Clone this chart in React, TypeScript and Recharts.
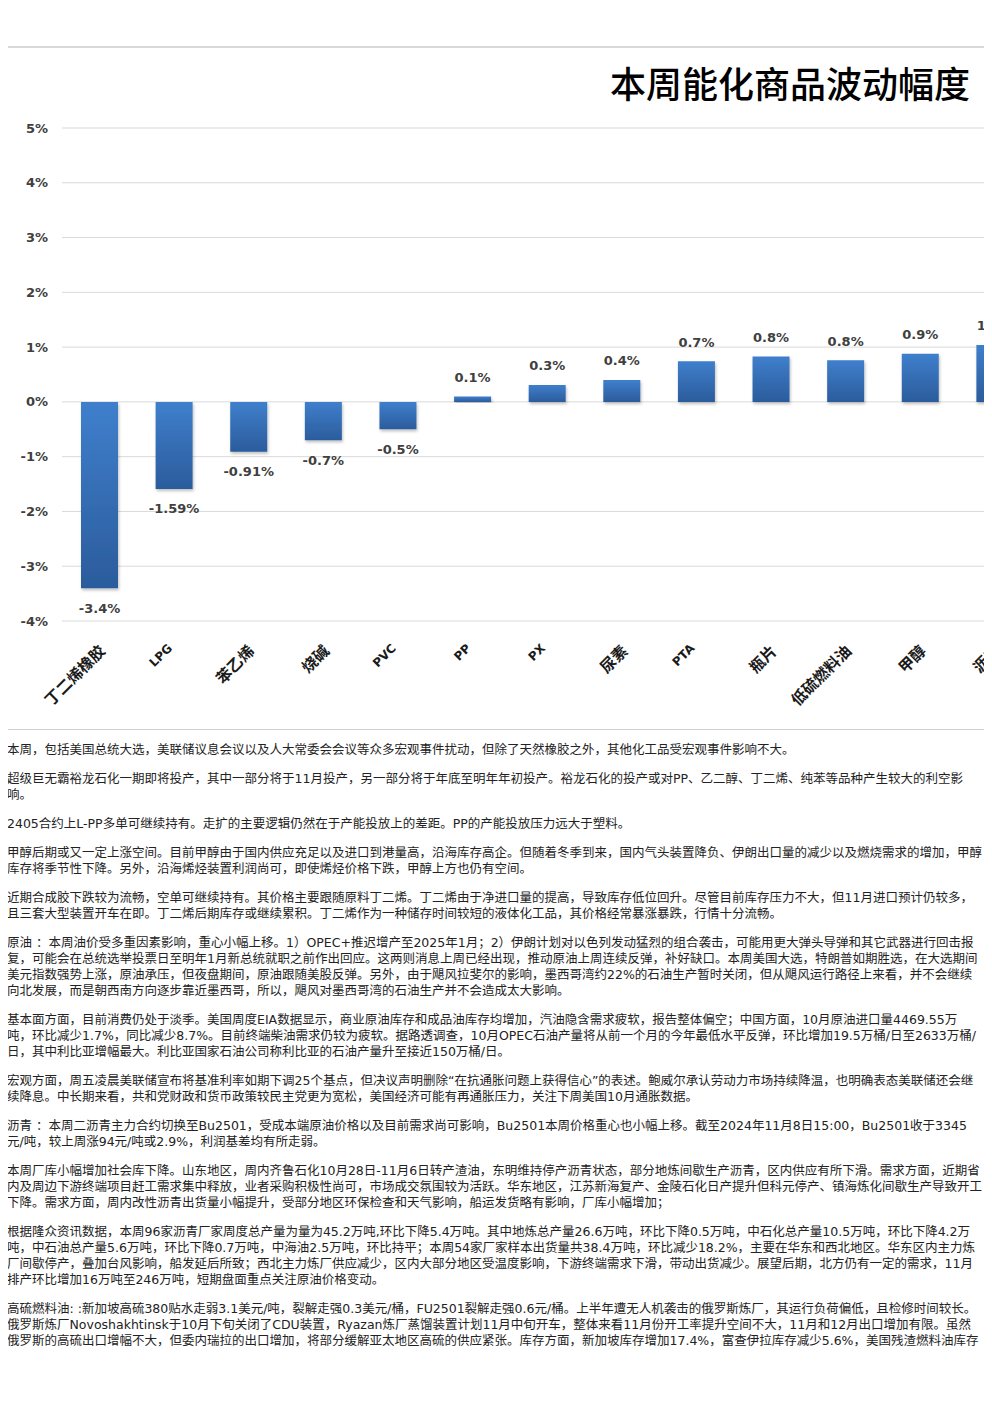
import React from 'react';
import { BarChart, Bar, XAxis, YAxis, CartesianGrid, LabelList } from 'recharts';

const title = '本周能化商品波动幅度';
const categories = ['丁二烯橡胶', 'LPG', '苯乙烯', '烧碱', 'PVC', 'PP', 'PX', '尿素', 'PTA', '瓶片', '低硫燃料油', '甲醇', '沥青'];
const changes = [-3.4, -1.59, -0.91, -0.7, -0.5, 0.1, 0.31, 0.4, 0.74, 0.83, 0.76, 0.88, 1.04];
const valueLabels = ['-3.4%', '-1.59%', '-0.91%', '-0.7%', '-0.5%', '0.1%', '0.3%', '0.4%', '0.7%', '0.8%', '0.8%', '0.9%', '1.0%'];
const yTicks = [-4, -3, -2, -1, 0, 1, 2, 3, 4, 5];

const paragraphs = [
  '本周，包括美国总统大选，美联储议息会议以及人大常委会会议等众多宏观事件扰动，但除了天然橡胶之外，其他化工品受宏观事件影响不大。',
  '超级巨无霸裕龙石化一期即将投产，其中一部分将于11月投产，另一部分将于年底至明年年初投产。裕龙石化的投产或对PP、乙二醇、丁二烯、纯苯等品种产生较大的利空影响。',
  '2405合约上L-PP多单可继续持有。走扩的主要逻辑仍然在于产能投放上的差距。PP的产能投放压力远大于塑料。',
  '甲醇后期或又一定上涨空间。目前甲醇由于国内供应充足以及进口到港量高，沿海库存高企。但随着冬季到来，国内气头装置降负、伊朗出口量的减少以及燃烧需求的增加，甲醇库存将季节性下降。另外，沿海烯烃装置利润尚可，即使烯烃价格下跌，甲醇上方也仍有空间。',
  '近期合成胶下跌较为流畅，空单可继续持有。其价格主要跟随原料丁二烯。丁二烯由于净进口量的提高，导致库存低位回升。尽管目前库存压力不大，但11月进口预计仍较多，且三套大型装置开车在即。丁二烯后期库存或继续累积。丁二烯作为一种储存时间较短的液体化工品，其价格经常暴涨暴跌，行情十分流畅。',
  '原油 ：本周油价受多重因素影响，重心小幅上移。1）OPEC+推迟增产至2025年1月；2）伊朗计划对以色列发动猛烈的组合袭击，可能用更大弹头导弹和其它武器进行回击报复，可能会在总统选举投票日至明年1月新总统就职之前作出回应。这两则消息上周已经出现，推动原油上周连续反弹，补好缺口。本周美国大选，特朗普如期胜选，在大选期间美元指数强势上涨，原油承压，但夜盘期间，原油跟随美股反弹。另外，由于飓风拉斐尔的影响，墨西哥湾约22%的石油生产暂时关闭，但从飓风运行路径上来看，并不会继续向北发展，而是朝西南方向逐步靠近墨西哥，所以，飓风对墨西哥湾的石油生产并不会造成太大影响。',
  '基本面方面，目前消费仍处于淡季。美国周度EIA数据显示，商业原油库存和成品油库存均增加，汽油隐含需求疲软，报告整体偏空；中国方面，10月原油进口量4469.55万吨，环比减少1.7%，同比减少8.7%。目前终端柴油需求仍较为疲软。据路透调查，10月OPEC石油产量将从前一个月的今年最低水平反弹，环比增加19.5万桶/日至2633万桶/日，其中利比亚增幅最大。利比亚国家石油公司称利比亚的石油产量升至接近150万桶/日。',
  '宏观方面，周五凌晨美联储宣布将基准利率如期下调25个基点，但决议声明删除“在抗通胀问题上获得信心”的表述。鲍威尔承认劳动力市场持续降温，也明确表态美联储还会继续降息。中长期来看，共和党财政和货币政策较民主党更为宽松，美国经济可能有再通胀压力，关注下周美国10月通胀数据。',
  '沥青 ：本周二沥青主力合约切换至Bu2501，受成本端原油价格以及目前需求尚可影响，Bu2501本周价格重心也小幅上移。截至2024年11月8日15:00，Bu2501收于3345元/吨，较上周涨94元/吨或2.9%，利润基差均有所走弱。',
  '本周厂库小幅增加社会库下降。山东地区，周内齐鲁石化10月28日-11月6日转产渣油，东明维持停产沥青状态，部分地炼间歇生产沥青，区内供应有所下滑。需求方面，近期省内及周边下游终端项目赶工需求集中释放，业者采购积极性尚可，市场成交氛围较为活跃。华东地区，江苏新海复产、金陵石化日产提升但科元停产、镇海炼化间歇生产导致开工下降。需求方面，周内改性沥青出货量小幅提升，受部分地区环保检查和天气影响，船运发货略有影响，厂库小幅增加；',
  '根据隆众资讯数据，本周96家沥青厂家周度总产量为量为45.2万吨,环比下降5.4万吨。其中地炼总产量26.6万吨，环比下降0.5万吨，中石化总产量10.5万吨，环比下降4.2万吨，中石油总产量5.6万吨，环比下降0.7万吨，中海油2.5万吨，环比持平；本周54家厂家样本出货量共38.4万吨，环比减少18.2%，主要在华东和西北地区。华东区内主力炼厂间歇停产，叠加台风影响，船发延后所致；西北主力炼厂供应减少，区内大部分地区受温度影响，下游终端需求下滑，带动出货减少。展望后期，北方仍有一定的需求，11月排产环比增加16万吨至246万吨，短期盘面重点关注原油价格变动。',
  '高硫燃料油: :新加坡高硫380贴水走弱3.1美元/吨，裂解走强0.3美元/桶，FU2501裂解走强0.6元/桶。上半年遭无人机袭击的俄罗斯炼厂，其运行负荷偏低，且检修时间较长。俄罗斯炼厂Novoshakhtinsk于10月下旬关闭了CDU装置，Ryazan炼厂蒸馏装置计划11月中旬开车，整体来看11月份开工率提升空间不大，11月和12月出口增加有限。虽然俄罗斯的高硫出口增幅不大，但委内瑞拉的出口增加，将部分缓解亚太地区高硫的供应紧张。库存方面，新加坡库存增加17.4%，富查伊拉库存减少5.6%，美国残渣燃料油库存',
];

const data = categories.map((name, i) => ({ name, value: changes[i], label: valueLabels[i] }));

const numFont = '"DejaVu Sans", "Noto Sans CJK SC", sans-serif';
const cjkFont = '"Noto Sans CJK SC", "DejaVu Sans", sans-serif';

const YTick = (props: any) => {
  const { y, payload } = props;
  return (
    <text x={40} y={y} dy={4.5} textAnchor="end" fontSize={13} fontWeight="bold" fill="#404040" fontFamily={numFont}>
      {`${payload.value}%`}
    </text>
  );
};

const XTick = (props: any) => {
  const { x, y, payload } = props;
  const v: string = payload.value;
  const latin = /^[A-Za-z]+$/.test(v);
  const ex = x + (latin ? -1 : 7);
  const ey = y + (latin ? 28 : 31);
  return (
    <text
      x={ex}
      y={ey}
      transform={`rotate(-45 ${ex} ${ey})`}
      textAnchor="end"
      fontSize={latin ? 12 : 15.5}
      fontWeight="bold"
      fill="#1a1a1a"
      fontFamily={latin ? numFont : cjkFont}
    >
      {v}
    </text>
  );
};

const BarLabel = (props: any) => {
  const { x, y, width, height, value, index } = props;
  const top = Math.min(y, y + height);
  const bottom = Math.max(y, y + height);
  const neg = changes[index] < 0;
  const cy = neg ? bottom + 20 : top - 19;
  return (
    <text x={x + width / 2} y={cy} dy={4.5} textAnchor="middle" fontSize={13} fontWeight="bold" fill="#404040" fontFamily={numFont}>
      {value}
    </text>
  );
};

export default function App() {
  return (
    <div style={{ paddingTop: 38, marginLeft: -1, width: 985, overflow: 'hidden' }}>
      <div
        style={{
          position: 'relative',
          width: 1100,
          height: 681,
          border: '1px solid #cfcfcf',
          borderTop: '2px solid #d9d9d9',
          background: '#fff',
        }}
      >
        <div
          style={{
            position: 'absolute',
            left: 0,
            top: 14,
            width: 962,
            textAlign: 'right',
            fontSize: 36,
            lineHeight: '40px',
            fontFamily: cjkFont,
            fontWeight: 500,
            color: '#000',
            whiteSpace: 'nowrap',
          }}
        >
          {title}
        </div>
        <BarChart width={1100} height={681} data={data} margin={{ top: 80, right: 76, bottom: 78, left: 0 }}>
          <defs>
            <linearGradient id="barGrad" x1="0" y1="0" x2="0" y2="1">
              <stop offset="0%" stopColor="#3f7fcc" />
              <stop offset="100%" stopColor="#2b5c9c" />
            </linearGradient>
            <filter id="barShadow" x="-20%" y="-20%" width="140%" height="140%">
              <feDropShadow dx="1" dy="2" stdDeviation="1.5" floodColor="#000" floodOpacity="0.25" />
            </filter>
          </defs>
          <CartesianGrid vertical={false} stroke="#d9d9d9" />
          <XAxis dataKey="name" axisLine={false} tickLine={false} tickSize={0} tickMargin={0} interval={0} tick={<XTick />} height={30} />
          <YAxis
            domain={[-4, 5]}
            ticks={yTicks}
            axisLine={false}
            tickLine={false}
            width={54}
            tick={<YTick />}
            allowDataOverflow
          />
          <Bar dataKey="value" barSize={37} fill="url(#barGrad)" filter="url(#barShadow)" isAnimationActive={false}>
            <LabelList dataKey="label" content={<BarLabel />} />
          </Bar>
        </BarChart>
      </div>
      <div
        style={{
          marginTop: 12,
          width: 975,
          fontFamily: numFont,
          fontSize: 12.5,
          lineHeight: '16px',
          color: '#222',
        }}
      >
        {paragraphs.map((p, i) => (
          <p key={i} style={{ margin: '0 0 13px 0' }}>
            {p}
          </p>
        ))}
      </div>
    </div>
  );
}
